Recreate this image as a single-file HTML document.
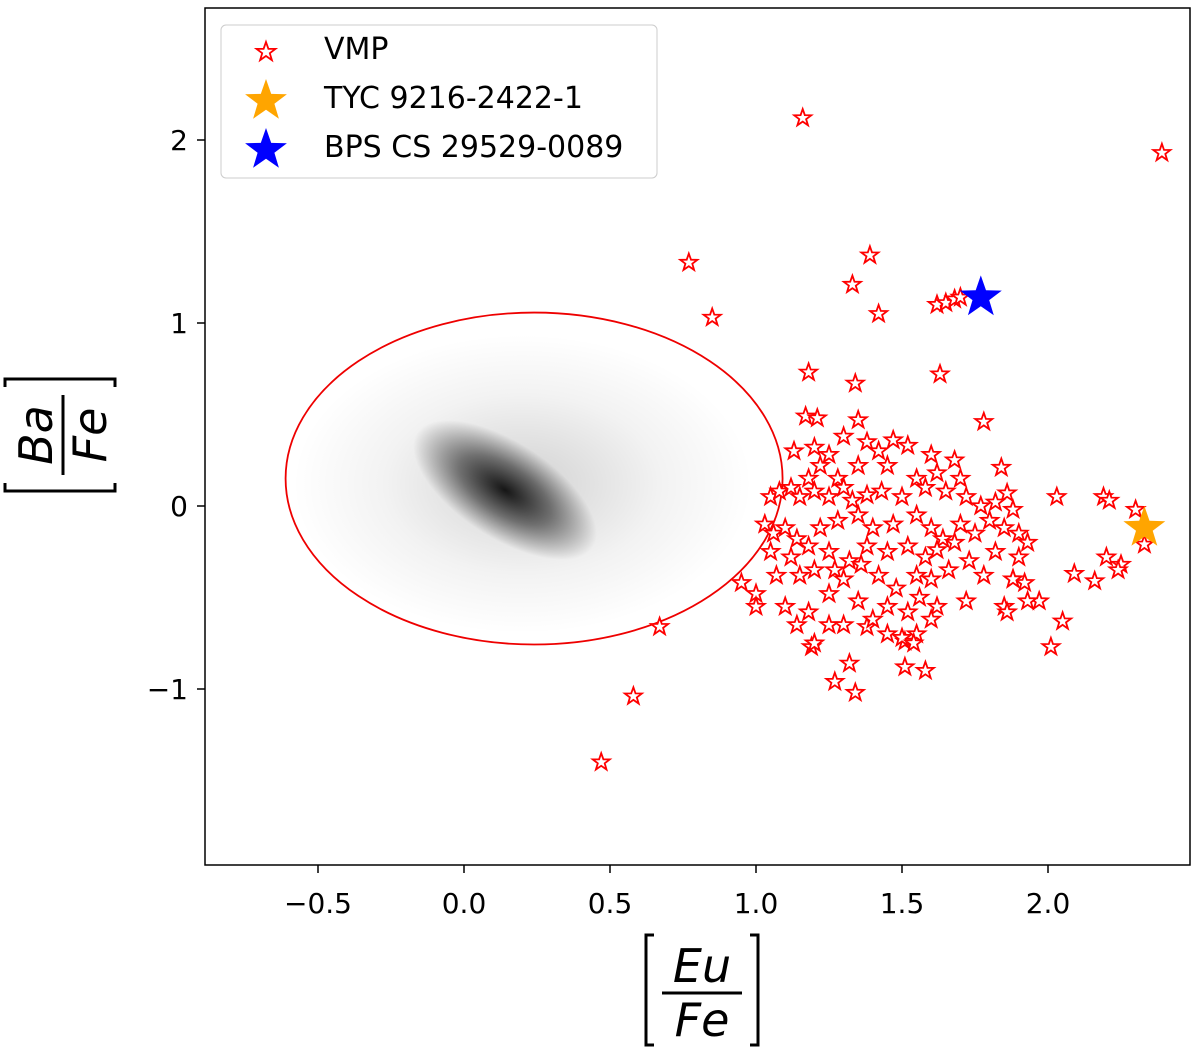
<!DOCTYPE html>
<html><head><meta charset="utf-8"><style>
body{margin:0;background:#fff;width:1200px;height:1055px;overflow:hidden;font-family:"DejaVu Sans","Liberation Sans",sans-serif}
svg text{font-family:"DejaVu Sans","Liberation Sans",sans-serif}
</style></head><body>
<svg id="chart" width="1200" height="1055" xmlns="http://www.w3.org/2000/svg">
<defs>
<radialGradient id="g1"><stop offset="0" stop-color="#000" stop-opacity="0.9"/><stop offset="0.5" stop-color="#000" stop-opacity="0.5"/><stop offset="1" stop-color="#000" stop-opacity="0"/></radialGradient>
<radialGradient id="g2"><stop offset="0" stop-color="#000" stop-opacity="0.18"/><stop offset="0.6" stop-color="#000" stop-opacity="0.05"/><stop offset="1" stop-color="#000" stop-opacity="0"/></radialGradient>
<clipPath id="plotclip"><rect x="205" y="8" width="985" height="857"/></clipPath>
</defs>
<g id="density" clip-path="url(#plotclip)"></g>
<g id="ell"></g>
<g id="pts"></g>
<rect x="205" y="8" width="985" height="857" fill="none" stroke="#000" stroke-width="1.5"/>
<g id="axes"></g>
<g>
<rect x="221" y="25" width="436" height="153" rx="5" fill="#fff" fill-opacity="0.85" stroke="#ccc"/>
<g id="leg"></g>
<text x="324" y="59" font-size="30">VMP</text>
<text x="324" y="108" font-size="30">TYC 9216-2422-1</text>
<text x="324" y="157" font-size="30">BPS CS 29529-0089</text>
</g>
<g transform="translate(60,435) rotate(-90)" font-style="italic" font-size="46">
<text x="0" y="-8" text-anchor="middle">Ba</text>
<line x1="-40" y1="3" x2="40" y2="3" stroke="#000" stroke-width="3"/>
<text x="0" y="46" text-anchor="middle">Fe</text>
<path d="M-48,-55 h-8 v110 h8 M48,-55 h8 v110 h-8" fill="none" stroke="#000" stroke-width="3"/>
</g>
<g transform="translate(702,990)" font-style="italic" font-size="46">
<text x="0" y="-8" text-anchor="middle">Eu</text>
<line x1="-40" y1="3" x2="40" y2="3" stroke="#000" stroke-width="3"/>
<text x="0" y="46" text-anchor="middle">Fe</text>
<path d="M-48,-55 h-8 v110 h8 M48,-55 h8 v110 h-8" fill="none" stroke="#000" stroke-width="3"/>
</g>
</svg>
<script>
const xTicks=[-0.5,0.0,0.5,1.0,1.5,2.0];
const xTickLabels=["\u22120.5","0.0","0.5","1.0","1.5","2.0"];
const yTicks=[2,1,0,-1];
const yTickLabels=["2","1","0","\u22121"];
const vmpX=[1.16,2.39,0.77,0.85,1.39,1.33,1.42,1.62,1.65,1.68,1.70,1.63,1.18,1.34,1.78,1.17,1.21,1.35,1.84,1.86,2.03,2.19,2.21,2.30,2.33,0.67,0.58,0.47,1.34,1.27,1.32,1.19,1.25,1.38,1.51,1.58,1.51,1.55,
1.13,1.20,1.25,1.30,1.38,1.42,1.47,1.52,1.60,1.68,1.22,1.35,1.45,1.55,1.62,1.70,1.28,1.18,
1.05,1.08,1.12,1.15,1.20,1.25,1.30,1.33,1.38,1.43,1.50,1.58,1.65,1.72,1.77,1.82,1.88,
1.03,1.06,1.10,1.14,1.22,1.28,1.35,1.40,1.47,1.55,1.60,1.64,1.70,1.75,1.80,1.85,1.90,1.93,
1.05,1.12,1.18,1.25,1.32,1.38,1.45,1.52,1.58,1.62,1.68,1.73,1.82,1.90,
0.95,1.00,1.07,1.15,1.20,1.27,1.30,1.36,1.42,1.48,1.55,1.60,1.66,1.78,1.88,1.92,
1.00,1.10,1.18,1.25,1.35,1.45,1.52,1.56,1.62,1.72,1.85,1.86,1.97,
1.14,1.20,1.30,1.40,1.50,1.54,1.45,1.60,
2.25,2.24,2.20,2.16,2.09,2.05,2.01,1.93,1.88];
const vmpY=[2.12,1.93,1.33,1.03,1.37,1.21,1.05,1.10,1.11,1.13,1.14,0.72,0.73,0.67,0.46,0.49,0.48,0.47,0.21,0.07,0.05,0.05,0.03,-0.02,-0.21,-0.66,-1.04,-1.40,-1.02,-0.96,-0.86,-0.77,-0.65,-0.66,-0.88,-0.90,-0.74,-0.70,
0.30,0.32,0.28,0.38,0.35,0.30,0.36,0.33,0.28,0.25,0.22,0.22,0.22,0.15,0.18,0.15,0.15,0.15,
0.05,0.08,0.10,0.05,0.08,0.05,0.10,0.03,0.06,0.08,0.05,0.10,0.08,0.05,0.00,0.02,-0.02,
-0.10,-0.15,-0.12,-0.18,-0.12,-0.08,-0.05,-0.12,-0.10,-0.05,-0.12,-0.18,-0.10,-0.15,-0.08,-0.12,-0.15,-0.20,
-0.25,-0.28,-0.22,-0.25,-0.30,-0.22,-0.25,-0.22,-0.28,-0.24,-0.20,-0.30,-0.25,-0.28,
-0.42,-0.48,-0.38,-0.38,-0.35,-0.35,-0.40,-0.32,-0.38,-0.45,-0.38,-0.40,-0.35,-0.38,-0.40,-0.42,
-0.55,-0.55,-0.58,-0.48,-0.52,-0.55,-0.58,-0.50,-0.55,-0.52,-0.55,-0.58,-0.52,
-0.65,-0.75,-0.65,-0.62,-0.72,-0.75,-0.70,-0.62,
-0.32,-0.35,-0.28,-0.41,-0.37,-0.63,-0.77,-0.52,-0.40];
const tycPoint=[2.33,-0.12];
const bpsPoint=[1.77,1.14];
const ellipseCenter=[0.24,0.15];
const ellipseRadii=[0.851,0.907];

const X=v=>464+v*292, Y=v=>506-v*183;
const NS="http://www.w3.org/2000/svg";
function mk(t,a,p){const e=document.createElementNS(NS,t);for(const k in a)e.setAttribute(k,a[k]);p.appendChild(e);return e;}
function starPath(cx,cy,R){const r=R*0.4;let d="";for(let i=0;i<10;i++){const rr=i%2?r:R,a=-Math.PI/2+i*Math.PI/5;d+=(i?"L":"M")+(cx+rr*Math.cos(a)).toFixed(1)+","+(cy+rr*Math.sin(a)).toFixed(1);}return d+"Z";}

const dens=document.getElementById('density');
let e=mk('ellipse',{cx:X(0.2),cy:Y(0.12),rx:230,ry:150,fill:'url(#g2)'},dens);


e=mk('ellipse',{cx:505,cy:490,rx:105,ry:48,fill:'url(#g1)',transform:'rotate(33 505 490)'},dens);



const el=mk('ellipse',{cx:X(ellipseCenter[0]),cy:Y(ellipseCenter[1]),rx:ellipseRadii[0]*292,ry:ellipseRadii[1]*183,fill:'none',stroke:'#e00',"stroke-width":1.8},document.getElementById('ell'));



const pts=document.getElementById('pts');
for(let i=0;i<vmpX.length;i++){
 const p=mk('path',{d:starPath(X(vmpX[i]),Y(vmpY[i]),9),fill:'#fff',stroke:'#f00',"stroke-width":1.8},pts);
 
 
}
let s=mk('path',{d:starPath(X(tycPoint[0]),Y(tycPoint[1]),22),fill:'orange'},pts);


s=mk('path',{d:starPath(X(bpsPoint[0]),Y(bpsPoint[1]),22),fill:'#0000ff'},pts);



const leg=document.getElementById('leg');
s=mk('path',{d:starPath(266,52,10),fill:'#fff',stroke:'#f00',"stroke-width":1.8},leg);


s=mk('path',{d:starPath(266,101,22),fill:'orange'},leg);


s=mk('path',{d:starPath(266,150,22),fill:'#0000ff'},leg);



const ax=document.getElementById('axes');
xTicks.forEach((v,i)=>{
 const l=mk('line',{x1:X(v),x2:X(v),y1:865,y2:873,stroke:'#000',"stroke-width":1.5},ax);
 
 
 const t=mk('text',{x:X(v),y:913,"font-size":28,"text-anchor":"middle"},ax);t.textContent=xTickLabels[i];
 
 
});
yTicks.forEach((v,i)=>{
 const l=mk('line',{x1:197,x2:205,y1:Y(v),y2:Y(v),stroke:'#000',"stroke-width":1.5},ax);
 
 
 const t=mk('text',{x:188,y:Y(v)+10,"font-size":28,"text-anchor":"end"},ax);t.textContent=yTickLabels[i];
 
 
});
</script>
</body></html>
